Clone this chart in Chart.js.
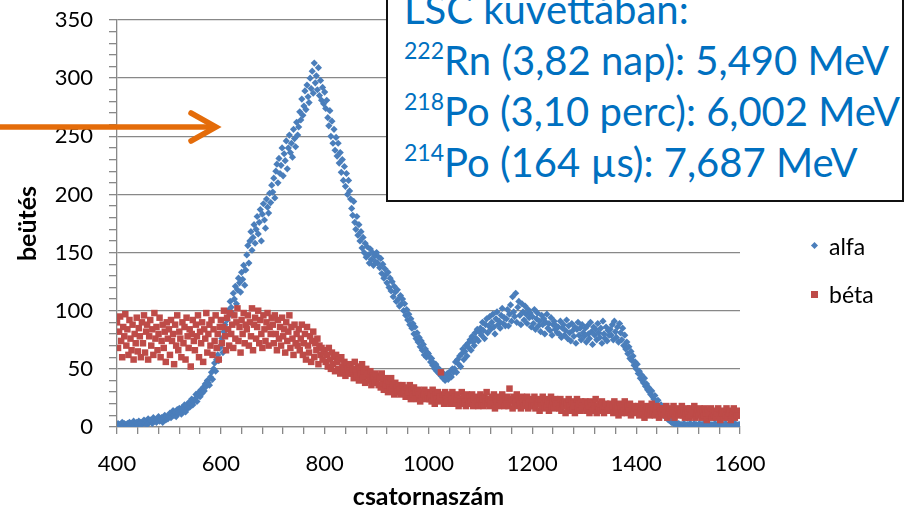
<!DOCTYPE html>
<html lang="hu">
<head>
<meta charset="UTF-8">
<script src="https://cdn.jsdelivr.net/npm/chart.js@4.4.0/dist/chart.umd.min.js"></script>
<style>
  body { margin: 0; background: #fff; }
  #wrap { position: relative; width: 904px; height: 515px; overflow: hidden; font-family: Lato, sans-serif; }
  #c { position: absolute; left: 0; top: 0; }
  #note {
    position: absolute; left: 386px; top: -30px; width: 518px; height: 232px;
    box-sizing: border-box; border: 2px solid #111; background: #fff;
    color: #0070c0; font-size: 40px; line-height: 51px;
    padding: 12px 0 0 16px; white-space: nowrap;
  }
  #note .sup { font-size: 23px; position: relative; top: -16px; line-height: 1; }
  .mk { position: absolute; }
  .lt { position: absolute; font-size: 23px; line-height: 26px; color: #000; }
</style>
</head>
<body>
<div id="wrap">
  <canvas id="c" width="904" height="515"></canvas>

  <svg width="240" height="160" style="position:absolute;left:0;top:0">
    <line x1="0" y1="127" x2="214" y2="127" stroke="#e46c0a" stroke-width="5.5"/>
    <polyline points="191,113 216,127 191,141" fill="none" stroke="#e46c0a" stroke-width="5.5" stroke-linecap="round"/>
  </svg>

  <div id="note">
    <div>LSC küvettában:</div>
    <div><span class="sup">222</span>Rn (3,82 nap): 5,490 MeV</div>
    <div><span class="sup">218</span>Po (3,10 perc): 6,002 MeV</div>
    <div><span class="sup">214</span>Po (164 µs): 7,687 MeV</div>
  </div>

  <div class="mk" style="left:812px;top:243px;width:5px;height:5px;background:#4a7ebb;transform:rotate(45deg)"></div>
  <div class="lt" style="left:829px;top:233px">alfa</div>
  <div class="mk" style="left:811px;top:291px;width:7px;height:7px;background:#be4b48"></div>
  <div class="lt" style="left:829px;top:281px">béta</div>
</div>

<script>
// csatornák: 400-tól 2-esével 1600-ig, soronként 50 csatorna
const chStart = 400;
const chStep = 2;

const alfa = [
  1, 3, 2, 0, 2, 4, 1, 3, 2, 1, 3, 2, 4, 2, 1, 3, 5, 2, 3, 4, 2, 5, 3, 4, 2,
  4, 6, 3, 5, 2, 7, 4, 6, 5, 3, 8, 5, 6, 4, 7, 9, 5, 6, 8, 4, 7, 10, 6, 9, 7,
  9, 12, 8, 11, 14, 10, 13, 9, 15, 12, 16, 14, 11, 17, 15, 19, 13, 18, 16, 21, 17, 20, 24, 19, 22,
  24, 28, 22, 27, 30, 26, 32, 29, 34, 31, 37, 35, 40, 38, 36, 43, 47, 41, 50, 55, 48, 58, 62, 57, 68,
  70, 76, 64, 82, 88, 79, 92, 100, 96, 108, 103, 98, 115, 110, 121, 106, 118, 128, 124, 116, 133, 127, 139, 122, 135,
  148, 156, 141, 160, 168, 152, 163, 174, 158, 170, 181, 166, 176, 187, 160, 183, 192, 178, 171, 196, 189, 184, 201, 193, 208,
  202, 214, 197, 220, 226, 210, 231, 218, 225, 240, 216, 235, 229, 246, 222, 240, 251, 236, 244, 232, 256, 248, 241, 262, 251,
  258, 271, 264, 282, 268, 276, 289, 273, 294, 284, 279, 300, 291, 306, 287, 313, 296, 302, 290, 309, 285, 298, 281, 292, 278,
  288, 274, 281, 266, 259, 272, 250, 263, 244, 256, 238, 249, 233, 244, 227, 236, 219, 230, 212, 224, 207, 218, 200, 212, 203,
  196, 188, 182, 194, 176, 170, 181, 165, 174, 160, 168, 154, 163, 150, 158, 146, 155, 148, 141, 153, 144, 150, 139, 147, 142,
  150, 141, 146, 137, 145, 132, 140, 128, 136, 131, 124, 133, 120, 128, 117, 125, 112, 121, 116, 108, 118, 110, 104, 113, 106,
  110, 100, 106, 96, 101, 92, 97, 88, 93, 85, 89, 80, 86, 76, 81, 73, 77, 69, 74, 66, 71, 62, 67, 60, 64,
  63, 60, 56, 59, 53, 55, 50, 54, 48, 51, 46, 49, 44, 47, 42, 45, 40, 43, 46, 41, 44, 48, 43, 50, 47,
  50, 56, 47, 58, 54, 61, 52, 63, 67, 58, 65, 70, 61, 72, 68, 75, 66, 78, 73, 70, 81, 76, 84, 74, 82,
  85, 79, 90, 83, 76, 88, 93, 81, 87, 95, 84, 90, 97, 86, 80, 93, 99, 88, 91, 85, 96, 102, 89, 94, 87,
  93, 101, 87, 97, 105, 91, 112, 99, 95, 115, 90, 103, 108, 96, 88, 106, 99, 92, 104, 97, 89, 101, 94, 98, 86,
  95, 89, 101, 84, 93, 98, 87, 91, 82, 96, 88, 93, 80, 90, 97, 85, 89, 83, 94, 79, 88, 91, 84, 87, 81,
  86, 80, 91, 77, 85, 88, 79, 83, 92, 76, 87, 81, 74, 89, 83, 78, 86, 72, 84, 90, 79, 85, 75, 88, 81,
  78, 85, 73, 87, 80, 76, 90, 82, 71, 86, 79, 84, 75, 89, 81, 77, 85, 72, 91, 80, 76, 86, 74, 83, 79,
  84, 79, 88, 75, 91, 82, 77, 86, 73, 89, 81, 75, 85, 70, 79, 67, 73, 63, 69, 59, 65, 57, 61, 53, 56,
  50, 54, 46, 48, 42, 45, 40, 38, 42, 35, 37, 32, 34, 30, 28, 31, 26, 24, 27, 22, 20, 23, 18, 16, 19,
  14, 12, 10, 11, 8, 9, 6, 7, 5, 4, 5, 3, 4, 2, 3, 2, 3, 1, 2, 2, 1, 3, 2, 1, 2,
  2, 1, 3, 2, 1, 2, 3, 1, 2, 1, 2, 3, 1, 2, 1, 3, 2, 1, 2, 1, 3, 2, 1, 2, 1,
  2, 3, 1, 2, 1, 2, 3, 1, 2, 2, 1, 3, 2, 1, 2, 1, 3, 2, 1, 2, 3, 1, 2, 1, 2,
  2
];

const beta = [
  90, 68, 82, 95, 74, 60, 86, 78, 97, 70, 84, 62, 92, 76, 66, 88, 58, 80, 72, 94, 65, 85, 78, 60, 90,
  72, 96, 64, 82, 88, 58, 78, 92, 70, 84, 62, 98, 76, 86, 66, 80, 94, 60, 74, 88, 68, 82, 56, 90, 76,
  84, 62, 92, 74, 80, 54, 88, 70, 96, 66, 82, 76, 60, 90, 72, 86, 58, 94, 78, 68, 84, 52, 80, 92, 74,
  66, 88, 78, 96, 60, 82, 72, 90, 56, 84, 76, 98, 64, 80, 88, 70, 92, 62, 84, 74, 96, 68, 80, 58, 86,
  92, 72, 86, 100, 78, 66, 94, 84, 70, 98, 80, 88, 68, 96, 76, 90, 102, 74, 86, 64, 92, 80, 98, 72, 88,
  84, 96, 70, 90, 78, 102, 66, 88, 94, 76, 86, 100, 72, 92, 80, 68, 96, 84, 74, 90, 98, 70, 86, 80, 94,
  88, 72, 96, 80, 66, 92, 76, 86, 70, 94, 78, 84, 64, 90, 74, 82, 96, 68, 86, 76, 62, 88, 72, 80, 70,
  84, 66, 76, 88, 62, 72, 80, 58, 86, 70, 64, 78, 56, 74, 82, 60, 72, 66, 76, 54, 70, 62, 68, 58, 64,
  66, 56, 62, 52, 68, 58, 50, 64, 54, 60, 48, 62, 56, 50, 58, 46, 60, 52, 48, 56, 44, 54, 50, 46, 52,
  54, 46, 50, 42, 56, 48, 44, 52, 40, 50, 46, 54, 42, 48, 38, 50, 44, 46, 40, 48, 36, 44, 42, 38, 46,
  40, 44, 36, 42, 34, 46, 38, 32, 42, 36, 40, 30, 38, 34, 42, 32, 36, 28, 38, 34, 30, 36, 32, 28, 34,
  36, 30, 32, 26, 34, 28, 30, 36, 24, 32, 28, 34, 26, 30, 24, 32, 28, 22, 30, 26, 28, 32, 24, 28, 26,
  30, 24, 28, 22, 32, 26, 20, 28, 24, 30, 22, 26, 47, 24, 28, 20, 30, 24, 22, 26, 28, 20, 24, 30, 22,
  26, 20, 24, 28, 18, 24, 22, 30, 20, 26, 22, 18, 28, 24, 20, 26, 22, 28, 18, 24, 20, 26, 22, 18, 24,
  28, 20, 24, 18, 26, 22, 30, 20, 24, 18, 22, 26, 20, 28, 16, 24, 22, 26, 18, 24, 20, 28, 22, 18, 24,
  20, 26, 18, 33, 22, 24, 16, 26, 20, 22, 28, 18, 24, 20, 16, 26, 22, 18, 24, 20, 26, 16, 22, 24, 18,
  22, 18, 26, 16, 22, 20, 24, 14, 22, 18, 26, 20, 16, 24, 18, 22, 14, 20, 26, 18, 22, 16, 24, 20, 18,
  20, 16, 24, 14, 20, 18, 22, 12, 20, 16, 24, 18, 14, 22, 16, 20, 12, 18, 24, 16, 20, 14, 22, 18, 16,
  18, 22, 14, 20, 16, 12, 22, 18, 14, 20, 16, 24, 12, 18, 16, 20, 14, 22, 16, 12, 18, 20, 14, 18, 16,
  20, 14, 18, 12, 22, 16, 14, 18, 10, 20, 16, 12, 18, 14, 22, 16, 12, 18, 14, 20, 10, 16, 18, 14, 16,
  16, 12, 18, 10, 14, 20, 12, 16, 8, 14, 18, 12, 16, 10, 14, 20, 12, 16, 10, 14, 18, 12, 8, 16, 14,
  12, 16, 10, 14, 18, 8, 12, 16, 10, 14, 12, 18, 8, 14, 12, 16, 10, 14, 12, 18, 10, 14, 8, 12, 16,
  12, 8, 16, 10, 14, 12, 18, 8, 12, 14, 10, 16, 12, 8, 14, 10, 16, 12, 6, 14, 10, 12, 16, 8, 12,
  10, 14, 8, 12, 16, 10, 6, 12, 14, 8, 12, 10, 16, 8, 12, 14, 6, 10, 12, 16, 8, 12, 10, 14, 10,
  10
];

const xTitle = 'csatornaszám';
const yTitle = 'beütés';

function pts(vals) {
  return vals.map((v, i) => ({ x: chStart + i * chStep, y: v }));
}

const axisGray = '#888888';
const tickFont = { family: 'Lato', size: 22 };
const titleFont = { family: 'Lato', size: 25, weight: 'bold' };

new Chart(document.getElementById('c'), {
  type: 'scatter',
  data: {
    datasets: [
      { label: 'béta', data: pts(beta), pointStyle: 'rect', pointRadius: 4.6,
        backgroundColor: '#be4b48', borderWidth: 0, order: 0 },
      { label: 'alfa', data: pts(alfa), pointStyle: 'rectRot', pointRadius: 3.6,
        backgroundColor: '#4a7ebb', borderWidth: 0, order: 1 }
    ]
  },
  options: {
    responsive: false,
    animation: false,
    layout: { padding: { top: 20, right: 164, bottom: 0, left: 0 } },
    plugins: { legend: { display: false }, tooltip: { enabled: false } },
    scales: {
      x: {
        type: 'linear', min: 400, max: 1600,
        afterFit: s => { s.height = 88; },
        ticks: {
          stepSize: 40, autoSkip: false, maxRotation: 0, minRotation: 0,
          callback: v => (v % 200 === 0 ? v : ''),
          font: tickFont, color: '#000', padding: 17
        },
        grid: { drawOnChartArea: false, color: axisGray, tickLength: 7, lineWidth: 1.3 },
        border: { color: axisGray, width: 1.3 },
        title: { display: true, text: xTitle, font: titleFont, color: '#000', padding: { top: 2, bottom: 3 } }
      },
      y: {
        min: 0, max: 350,
        afterFit: s => { s.width = 117; s.paddingTop = 0; s.paddingBottom = 0; },
        ticks: {
          stepSize: 10, autoSkip: false,
          callback: v => (v % 50 === 0 ? v : ''),
          font: tickFont, color: '#000', padding: 16
        },
        grid: {
          color: c => (c.tick && c.tick.value % 50 === 0 ? axisGray : 'rgba(0,0,0,0)'),
          tickColor: axisGray, tickLength: 8, lineWidth: 1.3
        },
        border: { color: axisGray, width: 1.3 },
        title: { display: true, text: yTitle, font: titleFont, color: '#000', padding: { top: 13, bottom: 0 } }
      }
    }
  }
});
</script>
</body>
</html>
